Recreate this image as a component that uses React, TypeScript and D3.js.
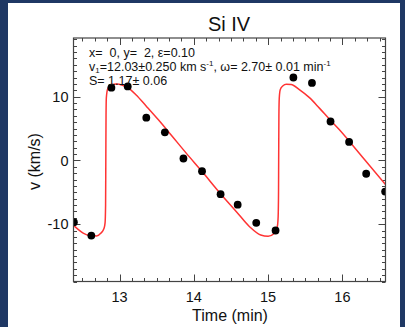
import React from "react";
import * as d3 from "d3";

const W = 405;
const H = 327;

// observed data points (time in min, velocity in km/s)
const obsTime = [12.385, 12.62, 12.89, 13.11, 13.36, 13.61, 13.86, 14.11, 14.36, 14.59, 14.84, 15.1, 15.34, 15.59, 15.84, 16.09, 16.32, 16.575];
const obsVel = [-9.7, -11.8, 11.4, 11.6, 6.7, 4.4, 0.3, -1.7, -5.3, -6.95, -9.8, -11.0, 13.0, 12.15, 6.1, 2.9, -2.1, -4.9];

// fitted model curve
const fitTime = [12.38, 12.45, 12.51, 12.6, 12.69, 12.75, 12.79, 12.805, 12.812, 12.815, 12.818, 12.822, 12.84, 12.89, 12.96, 13.04, 13.11, 13.22, 13.36, 13.52, 13.7, 13.9, 14.1, 14.35, 14.57, 14.75, 14.9, 15.0, 15.09, 15.125, 15.135, 15.14, 15.142, 15.145, 15.15, 15.163, 15.2, 15.244, 15.31, 15.42, 15.56, 15.69, 15.83, 15.96, 16.1, 16.3, 16.58];
const fitVel = [-10.2, -10.9, -11.4, -11.8, -11.85, -11.4, -10.7, -9.8, -7, 0, 7, 9.8, 11.2, 11.9, 12.0, 11.8, 11.4, 10.3, 8.5, 6.4, 3.9, 1.1, -1.6, -5.1, -8.0, -10.4, -11.7, -11.9, -11.4, -10.3, -8.8, -5, 0, 7, 9.8, 11.1, 11.7, 11.95, 11.9, 11.1, 9.8, 8.2, 6.4, 4.8, 2.9, 0.1, -3.8];

const xMajorTicks = [13, 14, 15, 16];
const yMajorTicks = [-10, 0, 10];

const title = "Si IV";
const xTitle = "Time (min)";
const yTitle = "v (km/s)";

const left = 73.5, right = 385.5, top = 38, bottom = 281.5;

export default function App() {
  const x = d3.scaleLinear().domain([12.38, 16.58]).range([left, right]);
  const y = d3.scaleLinear().domain([-19, 19.2]).range([bottom, top]);

  const xMinor: number[] = [];
  for (let i = Math.ceil(12.38 * 6); i <= Math.floor(16.58 * 6); i++) xMinor.push(i / 6);
  const yMinor: number[] = [];
  for (let v = -19; v <= 19; v++) yMinor.push(v);

  const fit = fitTime.map((t, i) => [t, fitVel[i]] as [number, number]);
  const line = d3
    .line<[number, number]>()
    .x((d) => x(d[0]))
    .y((d) => y(d[1]))
    .curve(d3.curveMonotoneX);

  const axisColor = "#444";
  const font = "'Liberation Sans', Arial, Helvetica, sans-serif";
  const isMajorX = (t: number) => xMajorTicks.some((m) => Math.abs(m - t) < 1e-6);
  const isMajorY = (v: number) => yMajorTicks.includes(v);

  return (
    <svg
      width={W}
      height={H}
      style={{ position: "fixed", left: 0, top: 0, display: "block" }}
      fontFamily={font}
    >
      <rect x={0} y={0} width={W} height={H} fill="#1f3864" />
      <rect x={8} y={3} width={392} height={H - 3} fill="#ffffff" />
      <defs>
        <clipPath id="plotClip">
          <rect x={left} y={top} width={right - left} height={bottom - top} />
        </clipPath>
      </defs>

      <text x={229} y={30.5} textAnchor="middle" fontSize={20} fill="#111">
        {title}
      </text>

      {/* ticks */}
      <g stroke={axisColor} strokeWidth={1}>
        {xMinor.map((t, i) => {
          const len = isMajorX(t) ? 7 : 3.5;
          const px = Math.round(x(t)) + 0.5;
          return (
            <g key={"xt" + i}>
              <line x1={px} x2={px} y1={bottom} y2={bottom - len} />
              <line x1={px} x2={px} y1={top} y2={top + len} />
            </g>
          );
        })}
        {yMinor.map((v, i) => {
          const len = isMajorY(v) ? 7 : 3.5;
          const py = Math.round(y(v)) + 0.5;
          return (
            <g key={"yt" + i}>
              <line x1={left} x2={left + len} y1={py} y2={py} />
              <line x1={right} x2={right - len} y1={py} y2={py} />
            </g>
          );
        })}
      </g>

      <g clipPath="url(#plotClip)">
        <path d={line(fit) || ""} fill="none" stroke="#ff3333" strokeWidth={1.5} />
        {obsTime.map((t, i) => (
          <circle key={"p" + i} cx={x(t)} cy={y(obsVel[i])} r={3.9} fill="#000" />
        ))}
      </g>

      <rect
        x={left}
        y={top}
        width={right - left}
        height={bottom - top}
        fill="none"
        stroke={axisColor}
        strokeWidth={1.2}
      />

      {/* tick labels */}
      {xMajorTicks.map((t) => (
        <text key={"xl" + t} x={x(t)} y={302} textAnchor="middle" fontSize={14.5} fill="#111">
          {t}
        </text>
      ))}
      {yMajorTicks.map((v) => (
        <text key={"yl" + v} x={68.5} y={y(v) + 5.2} textAnchor="end" fontSize={14.5} fill="#111">
          {v}
        </text>
      ))}

      <text x={230} y={321} textAnchor="middle" fontSize={16} fill="#111">
        {xTitle}
      </text>
      <text
        transform={`translate(40,${161.5}) rotate(-90)`}
        textAnchor="middle"
        fontSize={16}
        fill="#111"
      >
        {yTitle}
      </text>

      {/* annotation */}
      <g fontSize={12.5} fill="#111" style={{ whiteSpace: "pre" }}>
        <text x={89} y={56.5} xmlSpace="preserve">
          {"x=  0, y=  2, \u03B5=0.10"}
        </text>
        <text x={89} y={70.5} xmlSpace="preserve">
          <tspan>v</tspan>
          <tspan fontSize={8} dy={2}>1</tspan>
          <tspan dy={-2}>{"=12.03\u00B10.250 km s"}</tspan>
          <tspan fontSize={8} dy={-5}>-1</tspan>
          <tspan dy={5}>{", \u03C9= 2.70\u00B1 0.01 min"}</tspan>
          <tspan fontSize={8} dy={-5}>-1</tspan>
        </text>
        <text x={89} y={84.5} xmlSpace="preserve">
          {"S= 1.17\u00B1 0.06"}
        </text>
      </g>
    </svg>
  );
}
